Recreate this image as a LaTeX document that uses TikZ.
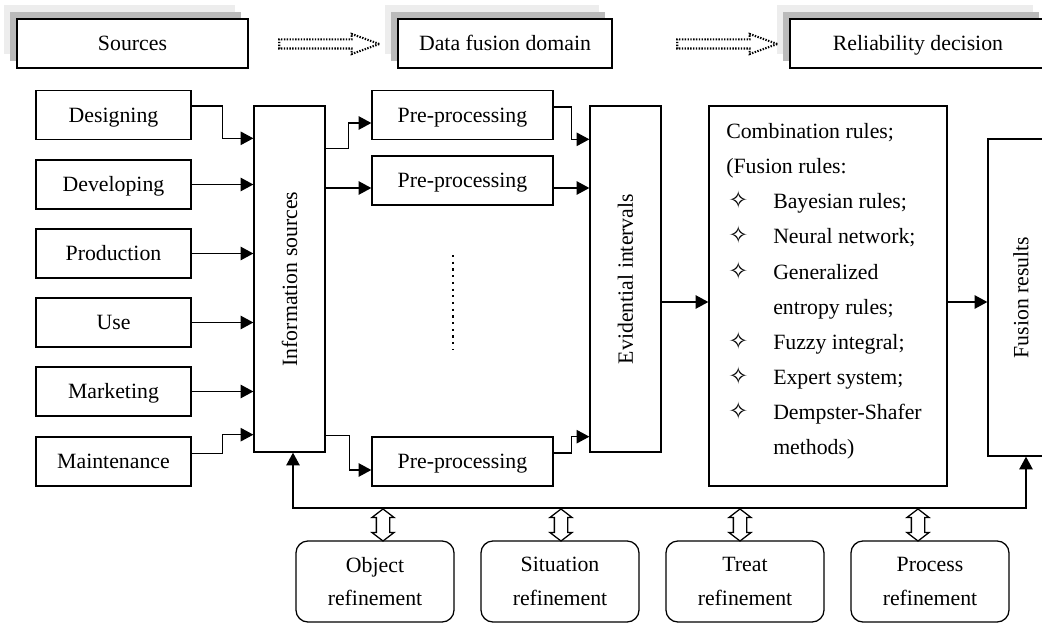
\documentclass[tikz,border=0pt]{standalone}
\usepackage{fontspec}
\usepackage{graphicx}
\setmainfont{Liberation Serif}
\newfontfamily\symfont{DejaVu Sans}
\usetikzlibrary{arrows.meta,shapes.arrows,shadows}

\newcommand\gem{\makebox[33.4pt][l]{\hspace{1.5pt}{\symfont\fontsize{17}{17}\selectfont ✧}}}

\tikzset{
  box/.style={draw, line width=0.9pt, fill=white, inner sep=0pt,
    text height=13.5pt, text depth=2.9pt},
  topbox/.style={box, minimum height=1.225cm,
    general shadow={fill=black!7, shadow xshift=-0.325cm, shadow yshift=0.35cm},
    general shadow={fill=black!27, shadow xshift=-0.175cm, shadow yshift=0.175cm}},
  srcbox/.style={box, minimum width=3.875cm, minimum height=1.225cm},
  ppbox/.style={box, minimum width=4.525cm, minimum height=1.225cm},
  tallbox/.style={draw, line width=0.9pt, inner sep=0pt, minimum width=1.775cm, minimum height=8.65cm},
  refbox/.style={draw, line width=0.9pt, inner sep=0pt, rounded corners=0.3cm, minimum width=3.95cm,
    minimum height=2.025cm, align=center},
  dotarrow/.style={draw, line width=1.5pt, dash pattern=on 1pt off 1pt,
    single arrow, inner sep=0.0875cm, minimum height=2.5cm,
    single arrow head extend=0.1375cm, single arrow tip angle=40},
  dblarrow/.style={draw, line width=0.9pt, fill=white, double arrow, rotate=90,
    inner sep=0.15cm, minimum height=0.8cm,
    double arrow head extend=0.11cm, double arrow tip angle=105},
  arr/.style={line width=0.9pt, -{Triangle[length=9pt,width=9.5pt]}},
  arr2/.style={line width=0.9pt, {Triangle[length=9pt,width=9.5pt]}-{Triangle[length=9pt,width=9.5pt]}}
}

\begin{document}
\begin{tikzpicture}[x=0.025cm, y=-0.025cm, font=\fontsize{15.5}{24}\selectfont]
  %\draw[help lines] (0,0) grid[step=50] (1042,624);
  \useasboundingbox (0,0) rectangle (1042,624);
  \clip (0,0) rectangle (1042,624);

  % headings
  \node[topbox, minimum width=5.775cm] (hsrc) at (132.5,43.5) {Sources};
  \node[topbox, minimum width=5.35cm] (hdfd) at (505,43.5) {Data fusion domain};
  \node[topbox, minimum width=6.4cm] (hrel) at (918,43.5) {Reliability decision};
  \node[dotarrow] (go1) at (323,44) {};
  \node[dotarrow] (go2) at (721,44) {};

  % sources
  \node[srcbox] (des) at (113.5,115) {Designing};
  \node[srcbox] (dev) at (113.5,184.5) {Developing};
  \node[srcbox] (pro) at (113.5,253.5) {Production};
  \node[srcbox] (use) at (113.5,322.5) {Use};
  \node[srcbox] (mkt) at (113.5,391.5) {Marketing};
  \node[srcbox] (mnt) at (113.5,461.5) {Maintenance};

  \node[tallbox] (info) at (289.5,279) {\rotatebox{90}{Information sources}};

  \node[ppbox] (pp1) at (462.5,115) {Pre-processing};
  \node[ppbox] (pp2) at (462.5,180.5) {Pre-processing};
  \node[ppbox] (pp3) at (462.5,461.5) {Pre-processing};
  \draw[line width=1.6pt, dash pattern=on 1.6pt off 3.17pt] (453,255) -- (453,349);

  \node[tallbox] (evid) at (625.5,279) {\rotatebox{90}{Evidential intervals}};

  \node[draw, line width=0.9pt, minimum width=5.95cm, minimum height=9.5cm] (comb) at (828,296) {};
  \node[anchor=north west, align=left, inner sep=0pt, font=\fontsize{15.5}{25}\selectfont]
    (rules) at (726,123) {Combination rules;\\
    (Fusion rules:\\
    \gem Bayesian rules;\\
    \gem Neural network;\\
    \gem Generalized\\
    \hspace*{33.4pt}entropy rules;\\
    \gem Fuzzy integral;\\
    \gem Expert system;\\
    \gem Dempster-Shafer\\
    \hspace*{33.4pt}methods)};

  \node[tallbox, minimum width=1.65cm, minimum height=7.925cm] (fus) at (1021,297.5) {\rotatebox{90}{Fusion results}};

  % refinement
  \node[refbox] (obj) at (375,581.5) {Object\\refinement};
  \node[refbox] (sit) at (560,581.5) {Situation\\refinement};
  \node[refbox] (trt) at (745,581.5) {Treat\\refinement};
  \node[refbox] (prc) at (930,581.5) {Process\\refinement};

  % sources into information box
  \draw[arr] ([shift={(0,-9)}]des.east) -- ++(31,0) |- ([shift={(0,33)}]info.north west);
  \draw[arr] (dev.east) -- (dev.east -| info.west);
  \draw[arr] (pro.east) -- (pro.east -| info.west);
  \draw[arr] (use.east) -- (use.east -| info.west);
  \draw[arr] (mkt.east) -- (mkt.east -| info.west);
  \draw[arr] ([shift={(0,-8)}]mnt.east) -- ++(31,0) |- ([shift={(0,-18)}]info.south west);

  % information into pre-processing
  \draw[arr] ([shift={(0,43)}]info.north east) -- ++(23,0) |- ([shift={(0,8)}]pp1.west);
  \coordinate (p2in) at ([shift={(0,7.5)}]pp2.west);
  \draw[arr] (p2in -| info.east) -- (p2in);
  \draw[arr] ([shift={(0,-17)}]info.south east) -- ++(24,0) |- ([shift={(0,8.5)}]pp3.west);

  % pre-processing into intervals
  \draw[arr] ([shift={(0,-8)}]pp1.east) -- ++(18,0) |- ([shift={(0,34)}]evid.north west);
  \coordinate (p2out) at ([shift={(0,7.5)}]pp2.east);
  \draw[arr] (p2out) -- (p2out -| evid.west);
  \draw[arr] ([shift={(0,-8.5)}]pp3.east) -- ++(18,0) |- ([shift={(0,-16)}]evid.south west);

  % intervals -> rules -> results
  \coordinate (cin) at ([shift={(0,6)}]comb.west);
  \draw[arr] (cin -| evid.east) -- (cin);
  \coordinate (cout) at ([shift={(0,6)}]comb.east);
  \draw[arr] (cout) -- (cout -| fus.west);

  % feedback
  \coordinate (bus) at (293,508);
  \coordinate (busR) at ([shift={(5,0)}]fus.south);
  \draw[arr2] (info.south -| bus) -- (bus) -| (busR);

  \node[dblarrow] (da1) at (383,525) {};
  \node[dblarrow] (da2) at (561,525) {};
  \node[dblarrow] (da3) at (740,525) {};
  \node[dblarrow] (da4) at (918,525) {};
\end{tikzpicture}
\end{document}
